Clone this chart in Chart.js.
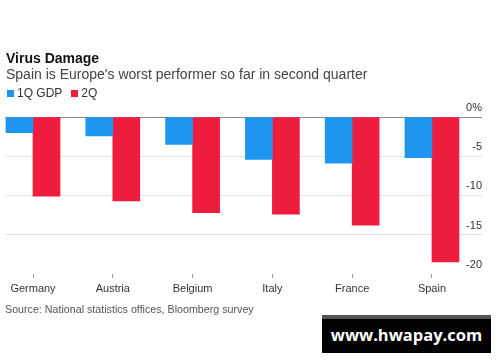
<!DOCTYPE html>
<html>
<head>
<meta charset="utf-8">
<script src="https://cdn.jsdelivr.net/npm/chart.js@4"></script>
<style>
  body { margin: 0; background: #fff; font-family: "Liberation Sans", Arial, sans-serif; }
  #wrap { position: relative; width: 500px; height: 362px; overflow: hidden; }
  .txt { position: absolute; white-space: nowrap; line-height: 1; }
  #title { left: 6px; top: 51px; font-size: 14px; font-weight: bold; color: #111; }
  #sub { left: 6px; top: 67px; font-size: 14px; color: #444; }
  #legend { left: 7px; top: 87px; font-size: 12px; color: #333; }
  #legend span.sw { display: inline-block; width: 7px; height: 7px; margin-right: 3px; vertical-align: 0px; }
  #legend span.it { margin-right: 9px; }
  #source { left: 5px; top: 304px; font-size: 10.7px; color: #555; }
  #chartBox { position: absolute; left: 0; top: 0; width: 500px; height: 305px; }
  #wm { position: absolute; left: 322px; top: 315px; width: 169px; height: 38px; background: #000;
        border-top: 4px solid #555; box-sizing: border-box; color: #fff; font-family: "Open Sans", sans-serif;
        font-weight: bold; font-size: 16.5px; text-align: center; line-height: 32px; }
</style>
</head>
<body>
<div id="wrap">
  <div id="chartBox"><canvas id="chartGdp"></canvas></div>
  <div class="txt" id="title">Virus Damage</div>
  <div class="txt" id="sub">Spain is Europe's worst performer so far in second quarter</div>
  <div class="txt" id="legend"><span class="sw" style="background:#1e96ef"></span><span class="it">1Q GDP</span><span class="sw" style="background:#ee1c3d"></span><span>2Q</span></div>
  <div class="txt" id="source">Source: National statistics offices, Bloomberg survey</div>
  <div id="wm">www.hwapay.com</div>
</div>
<script>
const countries = ["Germany", "Austria", "Belgium", "Italy", "France", "Spain"];
const gdp1Q = [-2.0, -2.4, -3.5, -5.4, -5.9, -5.2];
const gdp2Q = [-10.1, -10.7, -12.2, -12.4, -13.8, -18.5];
const yTicks = [0, -5, -10, -15, -20];

const toPoints = vals => vals.map((v, i) => ({ x: i, y: v }));

new Chart(document.getElementById("chartGdp"), {
  type: "bar",
  data: {
    datasets: [
      { label: "1Q GDP", data: toPoints(gdp1Q), backgroundColor: "#1e96ef", barThickness: 27 },
      { label: "2Q", data: toPoints(gdp2Q), backgroundColor: "#ee1c3d", barThickness: 27 }
    ]
  },
  options: {
    responsive: true,
    maintainAspectRatio: false,
    animation: false,
    layout: { padding: { top: 117, left: 5, right: 18, bottom: 4 } },
    plugins: { legend: { display: false }, tooltip: { enabled: false } },
    scales: {
      x: {
        type: "linear",
        offset: false,
        min: -0.351,
        max: 5.627,
        grid: { offset: false, drawOnChartArea: false, drawTicks: true, tickLength: 4, color: "#999" },
        border: { display: false },
        ticks: {
          stepSize: 1,
          includeBounds: false,
          autoSkip: false,
          maxRotation: 0,
          padding: 5,
          color: "#333",
          font: { family: "Liberation Sans", size: 11 },
          callback: v => (Number.isInteger(v) ? countries[v] : "")
        }
      },
      y: {
        position: "right",
        min: -20,
        max: 0,
        afterBuildTicks: scale => { scale.ticks = yTicks.map(v => ({ value: v })); },
        grid: {
          drawTicks: false,
          color: ctx => (ctx.tick && ctx.tick.value === 0 ? "#8a8a8a" : ctx.tick && ctx.tick.value === -20 ? "rgba(0,0,0,0)" : "#e2e2e2")
        },
        border: { display: false },
        ticks: {
          mirror: true,
          padding: 0,
          labelOffset: -9,
          color: "#333",
          font: { family: "Liberation Sans", size: 11 },
          callback: v => (v === 0 ? "0%" : String(v))
        }
      }
    }
  }
});
</script>
</body>
</html>
